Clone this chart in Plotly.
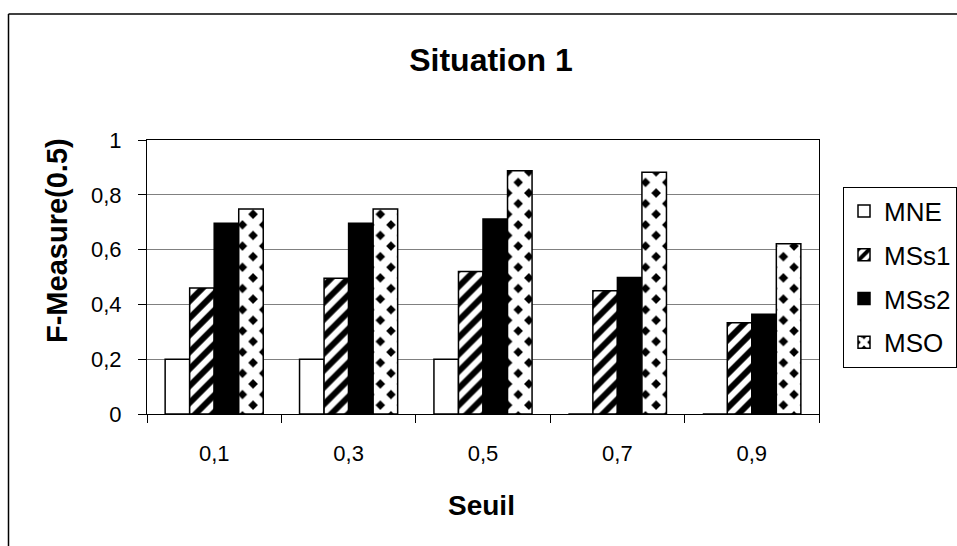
import plotly.graph_objects as go

categories = ["0,1", "0,3", "0,5", "0,7", "0,9"]
series_names = ["MNE", "MSs1", "MSs2", "MSO"]
mne = [0.2, 0.2, 0.2, 0, 0]
mss1 = [0.46, 0.495, 0.52, 0.45, 0.333]
mss2 = [0.696, 0.696, 0.712, 0.498, 0.364]
mso = [0.748, 0.748, 0.888, 0.882, 0.621]
y_ticks = [0, 0.2, 0.4, 0.6, 0.8, 1]

W, H = 957, 546
ML, MR, MT, MB = 147, 138, 140, 132
PW, PH = W - ML - MR, H - MT - MB

FONT = "Liberation Sans, Arial, sans-serif"

def px_x(x):
    return (x - ML) / PW

def px_y(y):
    return (H - MB - y) / PH

styles = [
    dict(color="white", pattern=dict(shape="")),
    dict(color="white", pattern=dict(shape="/", fgcolor="black", bgcolor="white", fgopacity=1,
                                     size=12, solidity=0.5)),
    dict(color="black", pattern=dict(shape="")),
    dict(color="black", pattern=dict(shape="x", fgcolor="white", bgcolor="black", fgopacity=1,
                                     size=15, solidity=0.8)),
]

fig = go.Figure()
for i, (name, vals) in enumerate(zip(series_names, [mne, mss1, mss2, mso])):
    st = styles[i]
    fig.add_trace(go.Bar(
        x=categories, y=vals, name=name, legendgroup=name,
        marker=dict(color=st["color"], pattern=st["pattern"],
                    line=dict(color="black", width=1.5)),
    ))

fig.update_layout(
    width=W, height=H,
    margin=dict(l=ML, r=MR, t=MT, b=MB, pad=0, autoexpand=False),
    paper_bgcolor="white", plot_bgcolor="white",
    barmode="group", bargap=0.27, bargroupgap=0,
    separators=", ",
    font=dict(family=FONT, color="black", size=22),
    title=dict(text="<b>Situation 1</b>", x=491 / W, xref="container",
               xanchor="center", y=1 - 60 / H, yanchor="middle", font=dict(size=32)),
    showlegend=True,
    legend=dict(x=px_x(843), xanchor="left", y=0.5, yanchor="middle",
                bordercolor="black", borderwidth=1, bgcolor="white",
                font=dict(size=26), tracegroupgap=7, itemwidth=30),
    xaxis=dict(type="category", tickson="boundaries", ticks="outside", ticklen=8,
               tickcolor="black", showline=True, linecolor="black", linewidth=1,
               mirror=True, showgrid=False, ticklabelstandoff=20,
               tickfont=dict(size=22)),
    yaxis=dict(range=[0, 1], tickvals=y_ticks, ticks="outside", ticklen=8,
               tickcolor="black", showline=True, linecolor="black", linewidth=1,
               mirror=True, showgrid=True, gridcolor="#808080", gridwidth=1,
               ticklabelstandoff=12, tickfont=dict(size=22), zeroline=False),
    annotations=[
        dict(text="<b>F-Measure(0.5)</b>", textangle=-90,
             xref="paper", yref="paper", x=px_x(57), y=px_y(241),
             xanchor="center", yanchor="middle", showarrow=False,
             font=dict(size=29)),
        dict(text="<b>Seuil</b>",
             xref="paper", yref="paper", x=px_x(481), y=px_y(505),
             xanchor="center", yanchor="middle", showarrow=False,
             font=dict(size=28)),
    ],
    shapes=[
        dict(type="line", xref="paper", yref="paper", x0=px_x(8.5), x1=px_x(W + 5),
             y0=px_y(14), y1=px_y(14), line=dict(color="black", width=1.5)),
        dict(type="line", xref="paper", yref="paper", x0=px_x(8.5), x1=px_x(8.5),
             y0=px_y(14), y1=px_y(H + 5), line=dict(color="black", width=1.5)),
    ],
)

fig.write_html("out.html")
